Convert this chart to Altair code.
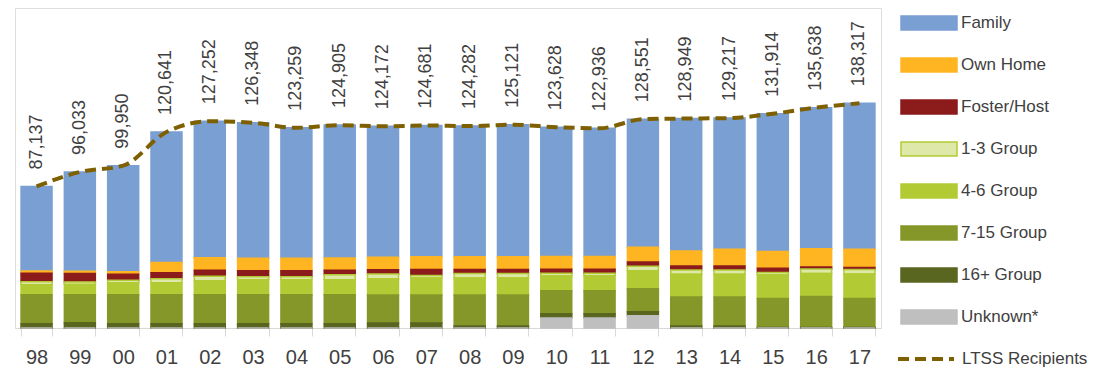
import altair as alt
import pandas as pd

years = ["98", "99", "00", "01", "02", "03", "04", "05", "06", "07",
         "08", "09", "10", "11", "12", "13", "14", "15", "16", "17"]
totals = [87137, 96033, 99950, 120641, 127252, 126348, 123259, 124905, 124172, 124681,
          124282, 125121, 123628, 122936, 128551, 128949, 129217, 131914, 135638, 138317]
family = [52087, 61053, 65390, 80241, 84072, 83468, 80379, 81845, 80672, 80821,
          80432, 81271, 79588, 78896, 78891, 81529, 80747, 84784, 86788, 89787]
own_home = [1420, 1420, 1420, 6340, 7580, 7580, 7580, 7580, 7580, 7820,
            7820, 7820, 7820, 7820, 9060, 9240, 10290, 10290, 11270, 11270]
foster = [5110, 5170, 3700, 3700, 3700, 3700, 3700, 2650, 2650, 3700,
          2460, 2460, 2460, 2460, 2650, 2460, 2460, 2650, 1230, 1230]
g1_3 = [1850, 1540, 1540, 2460, 2770, 1850, 1850, 3080, 3080, 1540,
        2770, 2770, 1540, 1540, 2650, 2650, 2650, 1540, 2770, 2770]
g4_6 = [6160, 6340, 7390, 7390, 8620, 9240, 9240, 9240, 9860, 10470,
        10470, 10470, 9240, 9240, 11090, 13980, 13980, 14480, 14170, 15090]
g7_15 = [17860, 17250, 17860, 17860, 17860, 17860, 17860, 17860, 17250, 17250,
         19100, 19100, 14170, 14170, 14170, 17860, 17860, 17860, 19100, 17860]
g16 = [2650, 3260, 2650, 2650, 2650, 2650, 2650, 2650, 3080, 3080,
       1230, 1230, 2650, 2650, 2460, 1230, 1230, 310, 310, 310]
unknown = [0, 0, 0, 0, 0, 0, 0, 0, 0, 0, 0, 0, 6160, 6160, 7580, 0, 0, 0, 0, 0]

categories = ["Family", "Own Home", "Foster/Host", "1-3 Group", "4-6 Group",
              "7-15 Group", "16+ Group", "Unknown*"]
fill_colors = ["#7A9FD3", "#FFB521", "#8C1B1B", "#DEE9A9", "#B2CB35",
               "#869729", "#596620", "#BFBFBF"]
stroke_colors = ["#7A9FD3", "#FFB521", "#8C1B1B", "#B2CB35", "#B2CB35",
                 "#869729", "#596620", "#BFBFBF"]
series_values = [family, own_home, foster, g1_3, g4_6, g7_15, g16, unknown]

rows = []
for ci, (cat, vals) in enumerate(zip(categories, series_values)):
    for yr, v in zip(years, vals):
        rows.append({"year": yr, "cat": cat, "value": v, "stack": len(categories) - ci})
bars_df = pd.DataFrame(rows)
line_df = pd.DataFrame({"year": years, "total": totals,
                        "series": ["LTSS Recipients"] * len(years)})

FONT = "Liberation Sans"
TXT = "#404040"
LINE_COLOR = "#7F6000"


def box_legend():
    return alt.Legend(title=None, orient="right", offset=33, padding=0,
                      symbolType="M-2,-0.5H2V0.5H-2Z", symbolSize=784,
                      symbolStrokeWidth=1.5, symbolOpacity=1,
                      labelFont=FONT, labelFontSize=17, labelColor=TXT,
                      labelOffset=17, rowPadding=17, labelLimit=200)


x_enc = alt.X("year:N", sort=years,
              scale=alt.Scale(paddingInner=0.285, paddingOuter=0.14),
              axis=alt.Axis(title=None, labelAngle=0, labelFont=FONT, labelFontSize=20,
                            labelColor=TXT, tickBand="extent", tickSize=8,
                            tickColor="#D9D9D9", domainColor="#D9D9D9",
                            labelPadding=11, grid=False))
y_scale = alt.Scale(domain=[0, 197000])

bars = alt.Chart(bars_df).mark_bar(strokeWidth=1.5).encode(
    x=x_enc,
    y=alt.Y("value:Q", stack="zero", scale=y_scale, axis=None),
    fill=alt.Fill("cat:N", scale=alt.Scale(domain=categories, range=fill_colors),
                  legend=box_legend()),
    stroke=alt.Stroke("cat:N", scale=alt.Scale(domain=categories, range=stroke_colors),
                      legend=box_legend()),
    order=alt.Order("stack:Q", sort="ascending"),
)

line = alt.Chart(line_df).mark_line(strokeWidth=4, stroke=LINE_COLOR,
                                    interpolate="monotone").encode(
    x=alt.X("year:N", sort=years),
    y=alt.Y("total:Q", scale=y_scale, axis=None),
    strokeDash=alt.StrokeDash(
        "series:N", scale=alt.Scale(domain=["LTSS Recipients"], range=[[11, 6]]),
        legend=alt.Legend(title=None, orient="right", offset=14, padding=8,
                          symbolType="M-2.857,0H1.143", symbolSize=784,
                          symbolStrokeWidth=4, symbolStrokeColor=LINE_COLOR,
                          symbolDash=[11, 5],
                          labelFont=FONT, labelFontSize=17, labelColor=TXT,
                          labelOffset=8, labelLimit=200)),
)

labels = alt.Chart(line_df).mark_text(angle=270, align="left", baseline="middle", dx=17,
                                      font=FONT, fontSize=18, color=TXT).encode(
    x=alt.X("year:N", sort=years),
    y=alt.Y("total:Q", scale=y_scale, axis=None),
    text=alt.Text("total:Q", format=","),
)

chart = alt.layer(bars, line, labels).properties(
    width=866, height=320,
    padding={"left": 7, "top": 0, "right": 220, "bottom": 40},
    autosize=alt.AutoSizeParams(type="none"),
).configure_view(stroke=None).configure(background="white")

chart.save("out.html", embed_options={"renderer": "svg", "actions": False})
